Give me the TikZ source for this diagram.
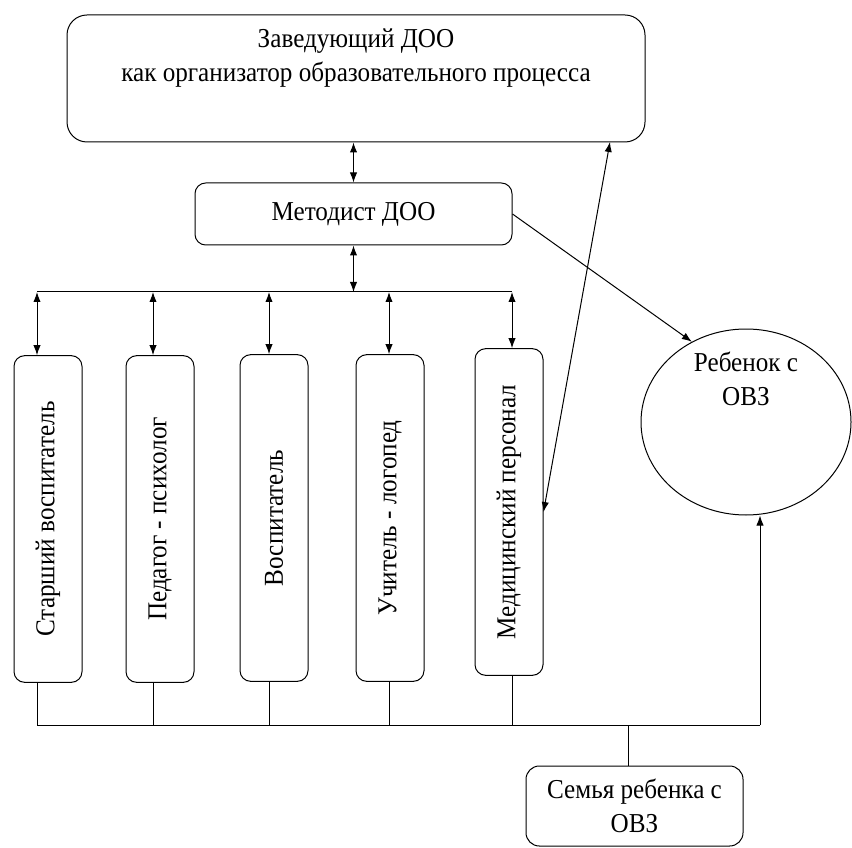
\documentclass[tikz,border=0pt]{standalone}
\usepackage{fontspec}
\setmainfont[FakeStretch=0.92]{Liberation Serif}
\usepackage{graphicx}
\usetikzlibrary{shapes.geometric,arrows.meta}
\begin{document}
\begin{tikzpicture}[x=0.75pt,y=-0.75pt,
  >={Latex[length=7.5pt,width=5.5pt]},
  every path/.style={line width=0.75pt},
  box/.style={draw,rounded corners=8pt,inner sep=2pt},
  lbl/.style={font=\fontsize{20.5}{25}\selectfont,align=center}]
\useasboundingbox (0,0) rectangle (852,848);
\node[box,rounded corners=15pt,minimum width=433.5pt,minimum height=95.25pt] (zav) at (356,78.5) {};
\node[lbl] (zavtxt) at (356,58) {Заведующий ДОО\\как организатор образовательного процесса};
\node[box,lbl,minimum width=237.75pt,minimum height=46.5pt] (met) at (353.5,214) {Методист ДОО};
\foreach \n/\x/\y/\t in {1/48/519/Старший воспитатель,2/160/519/Педагог - психолог,3/274/518/Воспитатель,4/390/518/Учитель - логопед,5/509/512/Медицинский персонал}{
\node[box,lbl,minimum width=51pt,minimum height=245pt] (b\n) at (\x,\y) {\rotatebox{90}{\t}};
}
\node[draw,ellipse,inner sep=0pt,minimum width=157.5pt,minimum height=139.5pt] (ell) at (746,422) {};
\node[lbl] (elltxt) at (746,379) {Ребенок с\\ОВЗ};
\node[box,lbl,rounded corners=10pt,minimum width=162.75pt,minimum height=60pt] (fam) at (634.5,806) {Семья ребенка с\\ОВЗ};
\foreach \n/\x in {1/37,2/153,3/269,4/389,5/512}{
\coordinate (u\n) at (\x,292);
\coordinate (d\n) at (\x,725);
}
\coordinate (d6) at (628,725);
\coordinate (d7) at (760,725);
\coordinate (zr) at (610,142);
\draw[<->] (zav.south -| met.north) -- (met.north);
\draw[<->] (met.south) -- (met.south |- u1);
\draw (u1) -- (u5);
\foreach \n in {1,...,5}{
\draw[<->] (u\n) -- (u\n |- b\n.north);
\draw (d\n |- b\n.south) -- (d\n);
}
\draw (d1) -- (d7);
\draw[->] (d7) -- (d7 |- ell.south);
\draw (d6) -- (d6 |- fam.north);
\draw[->] (met.east) -- (ell.124);
\draw[<->] (b5.east) -- (zr);
\end{tikzpicture}
\end{document}
